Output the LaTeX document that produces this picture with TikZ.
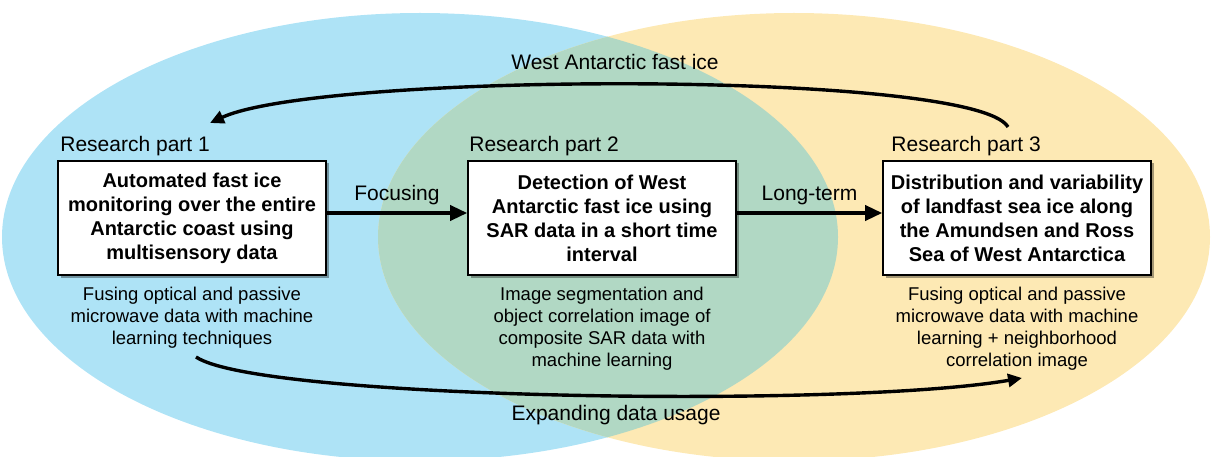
\documentclass[tikz,border=0pt]{standalone}
\usepackage{fontspec}
\setmainfont{Liberation Sans}
\usetikzlibrary{arrows.meta,shadows,calc}
\definecolor{eblue}{RGB}{174,227,246}
\definecolor{eyellow}{RGB}{253,233,180}
\definecolor{egreen}{RGB}{177,216,196}
\begin{document}
\begin{tikzpicture}[x=1pt,y=-1pt,
  box/.style={draw=black, line width=1.6pt, fill=white, minimum width=268pt,
    minimum height=114pt, align=center, inner sep=4pt,
    font=\fontsize{20}{24}\selectfont\bfseries,
    drop shadow={shadow xshift=2.5pt, shadow yshift=-2.5pt, opacity=0.35, fill=black}},
  lab/.style={font=\fontsize{21}{25}\selectfont, inner sep=0pt},
  desc/.style={font=\fontsize{18.5}{22}\selectfont, align=center, inner sep=0pt},
  fwd/.style={line width=3.6pt, -{Triangle[length=17pt,width=15pt]}},
  curv/.style={line width=3.4pt, -{Triangle[length=14pt,width=13pt]}}
]
\useasboundingbox (0,0) rectangle (1212,457);
\clip (0,0) rectangle (1212,457);
% ellipses
\fill[eblue] (420,237) ellipse [x radius=418pt, y radius=224pt];
\fill[eyellow] (794,237) ellipse [x radius=416pt, y radius=224pt];
\begin{scope}
  \clip (420,237) ellipse [x radius=418pt, y radius=224pt];
  \fill[egreen] (794,237) ellipse [x radius=416pt, y radius=224pt];
\end{scope}
% boxes
\node[box] (b1) at (192,218) {Automated fast ice\\monitoring over the entire\\Antarctic coast using\\multisensory data};
\node[box] (b2) at (602,218) {Detection of West\\Antarctic fast ice using\\SAR data in a short time\\interval};
\node[box] (b3) at (1017,218) {Distribution and variability\\of landfast sea ice along\\the Amundsen and Ross\\Sea of West Antarctica};
% research labels
\node[lab, anchor=base west] (r1) at ([xshift=3pt,yshift=9pt]b1.north west) {Research part 1};
\node[lab, anchor=base west] (r2) at ([xshift=2pt,yshift=9pt]b2.north west) {Research part 2};
\node[lab, anchor=base west] (r3) at ([xshift=9pt,yshift=9pt]b3.north west) {Research part 3};
% descriptions
\node[desc, anchor=north] (d1) at ([yshift=-11pt]b1.south) {Fusing optical and passive\\microwave data with machine\\learning techniques};
\node[desc, anchor=north] (d2) at ([yshift=-11pt]b2.south) {Image segmentation and\\object correlation image of\\composite SAR data with\\machine learning};
\node[desc, anchor=north] (d3) at ([yshift=-11pt]b3.south) {Fusing optical and passive\\microwave data with machine\\learning + neighborhood\\correlation image};
% straight arrows
\draw[fwd] ([yshift=5pt]b1.east) -- node[lab, above=6pt] (lf) {Focusing} ([yshift=5pt]b2.west);
\draw[fwd] ([yshift=5pt]b2.east) -- node[lab, above=6pt] (ll) {Long-term} ([yshift=5pt]b3.west);
% curved arrows
\coordinate (t3) at (1008,127);
\coordinate (t1) at (210,123);
\draw[curv] (t3) .. controls (975,70) and (320,72) .. (t1);
\node[lab] (lw) at (615,62) {West Antarctic fast ice};
\coordinate (s1) at (196,357);
\coordinate (e3) at (1022,378);
\draw[curv] (s1) .. controls (260,400) and (850,408) .. (e3);
\node[lab] (le) at (616,415) {Expanding data usage};
\end{tikzpicture}
\end{document}
